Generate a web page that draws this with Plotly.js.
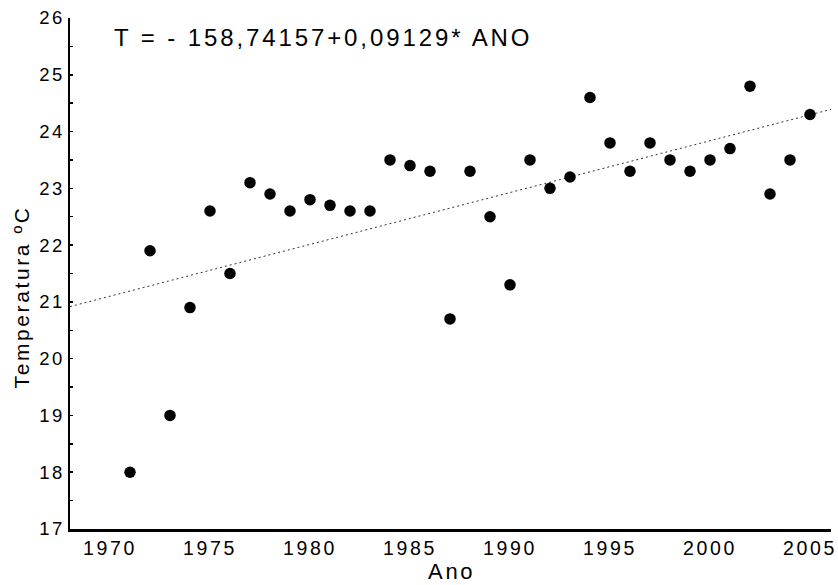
<!DOCTYPE html>
<html>
<head>
<meta charset="utf-8">
<script src="https://cdn.plot.ly/plotly-3.0.1.min.js"></script>
<style>
  html, body { margin: 0; padding: 0; background: #fff; }
  #chart { width: 838px; height: 585px; }
  .main-svg text { letter-spacing: 2.6px; }
</style>
</head>
<body>
<div id="chart"></div>
<script>
// Data
const years = [1971,1972,1973,1974,1975,1976,1977,1978,1979,1980,
               1981,1982,1983,1984,1985,1986,1987,1988,1989,1990,
               1991,1992,1993,1994,1995,1996,1997,1998,1999,2000,
               2001,2002,2003,2004,2005];
const temps = [18.0,21.9,19.0,20.9,22.6,21.5,23.1,22.9,22.6,22.8,
               22.7,22.6,22.6,23.5,23.4,23.3,20.7,23.3,22.5,21.3,
               23.5,23.0,23.2,24.6,23.8,23.3,23.8,23.5,23.3,23.5,
               23.7,24.8,22.9,23.5,24.3];
// Regression equation shown on the chart
const intercept = -158.74157;
const slope = 0.09129;
const equationText = "T = - 158,74157+0,09129* ANO";
const xTickVals = [1970,1975,1980,1985,1990,1995,2000,2005];
const yTickVals = [17,18,19,20,21,22,23,24,25,26];

const xRange = [1968, 2006.05];
const yRange = [17, 26];

const font = "Liberation Sans, Arial, Helvetica, sans-serif";
const eqSpacing = 2.9;

const fitX = xRange.slice();
const fitY = fitX.map(x => intercept + slope * x);

const traces = [
  {
    x: fitX, y: fitY, type: "scatter", mode: "lines",
    line: {color: "#333", width: 1, dash: "2px,3px"},
    hoverinfo: "skip", showlegend: false
  },
  {
    x: years, y: temps, type: "scatter", mode: "markers",
    marker: {color: "#000", size: 11.5, symbol: "circle"},
    showlegend: false
  },
  // invisible trace so the overlaying axis draws its tick labels
  {
    x: [years[0]], y: [temps[0]], yaxis: "y2", type: "scatter", mode: "markers",
    marker: {opacity: 0}, hoverinfo: "skip", showlegend: false
  }
];

const layout = {
  width: 838, height: 585,
  margin: {l: 70, r: 7, t: 17.5, b: 56, pad: 0},
  paper_bgcolor: "#fff", plot_bgcolor: "#fff",
  font: {family: font, color: "#000"},
  showlegend: false,
  xaxis: {
    range: xRange, showgrid: false, zeroline: false,
    showline: true, linecolor: "#000", linewidth: 2.5,
    tickmode: "array", tickvals: xTickVals,
    ticks: "", ticklabelstandoff: 0,
    tickfont: {family: font, size: 19.5, color: "#000"}
  },
  yaxis: {
    range: yRange, showgrid: false, zeroline: false,
    showline: true, linecolor: "#000", linewidth: 2.5,
    tickmode: "linear", tick0: 17, dtick: 0.5,
    ticks: "inside", ticklen: 3, tickwidth: 1.5, tickcolor: "#000",
    showticklabels: false
  },
  yaxis2: {
    overlaying: "y", range: yRange, matches: "y",
    showgrid: false, zeroline: false, showline: false,
    tickmode: "array", tickvals: yTickVals, ticks: "",
    ticklabelstandoff: 4,
    tickfont: {family: font, size: 18.5, color: "#000"}
  },
  annotations: [
    {
      text: '<span style="letter-spacing:' + eqSpacing + 'px">' + equationText + '</span>',
      xref: "paper", yref: "paper",
      x: (112 - 70) / 761, y: (529 - 37) / 511.5,
      xanchor: "left", yanchor: "middle", showarrow: false,
      font: {family: font, size: 24, color: "#000"}
    },
    {
      text: "Temperatura ºC", xref: "paper", yref: "paper",
      x: (21 - 70) / 761, y: (529 - 296) / 511.5,
      xanchor: "center", yanchor: "middle", textangle: -90, showarrow: false,
      font: {family: font, size: 21, color: "#000"}
    },
    {
      text: "Ano", xref: "paper", yref: "paper",
      x: (451 - 70) / 761, y: (529 - 572) / 511.5,
      xanchor: "center", yanchor: "middle", showarrow: false,
      font: {family: font, size: 22, color: "#000"}
    }
  ]
};

Plotly.newPlot("chart", traces, layout, {displayModeBar: false, staticPlot: true});
</script>
</body>
</html>
